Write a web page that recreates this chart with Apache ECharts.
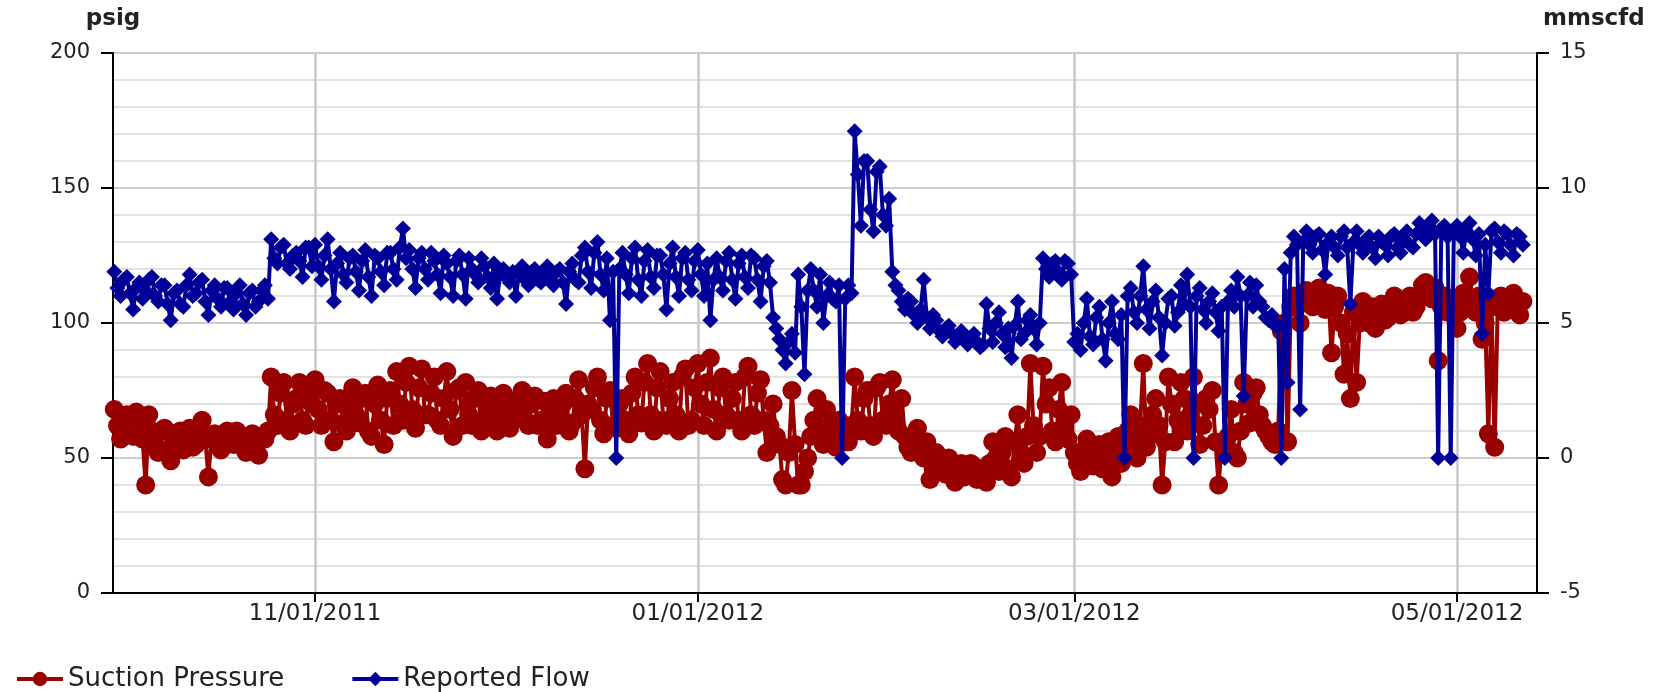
<!DOCTYPE html>
<html>
<head>
<meta charset="utf-8">
<script src="https://cdn.jsdelivr.net/npm/echarts@6/dist/echarts.min.js"></script>
<style>
  html, body { margin: 0; padding: 0; background: #ffffff; }
  #chart { width: 1670px; height: 692px; }
</style>
</head>
<body>
<div id="chart"></div>
<script>
// Two readings per day (00:00 and 12:00), starting 30 Sep 2011
const firstDay = [2011, 8, 30];

// Suction Pressure (psig), 00:00 readings
const pressureOct = [68, 57, 66, 58, 64, 40, 60, 52, 61, 49, 58, 53, 61, 55, 64, 43, 59, 53, 60, 55, 58, 52, 59, 51, 57, 80, 62, 78, 60, 72, 64, 75];
const pressureNov = [79, 62, 74, 56, 72, 60, 76, 63, 74, 58, 77, 55, 75, 82, 64, 84, 61, 83, 66, 80, 62, 82, 58, 76, 78, 62, 75, 64, 73, 60];
const pressureDec = [74, 61, 66, 75, 62, 73, 64, 57, 72, 65, 74, 63, 79, 46, 68, 80, 59, 75, 61, 72, 59, 80, 63, 85, 60, 82, 62, 78, 60, 83, 64];
const pressureJan = [85, 62, 87, 60, 80, 64, 78, 60, 84, 62, 79, 52, 70, 55, 40, 75, 40, 45, 58, 72, 55, 62, 54, 60, 56, 80, 60, 75, 58, 78, 62];
const pressureFeb = [79, 60, 58, 52, 61, 50, 42, 52, 47, 50, 41, 48, 45, 47, 44, 41, 56, 45, 58, 43, 66, 48, 85, 52, 84, 76, 56, 78, 57];
const pressureMar = [52, 45, 57, 47, 55, 50, 43, 58, 52, 66, 50, 85, 58, 72, 40, 80, 56, 78, 60, 80, 55, 72, 75, 40, 52, 68, 50, 78, 63, 76, 62];
const pressureApr = [58, 55, 97, 56, 110, 100, 112, 106, 113, 105, 89, 110, 81, 72, 78, 108, 100, 98, 107, 102, 110, 103, 108, 104, 110, 115, 109, 86, 110, 105];
const pressureMay = [98, 111, 117, 104, 94, 59, 54, 110, 106, 111, 103];

// Suction Pressure (psig), 12:00 readings
const pressureOct2 = [62, 65, 59, 67, 57, 66, 55, 60, 53, 58, 60, 56, 54, 59, 57, 58, 55, 58, 56, 60, 54, 58, 55, 58, 60, 66, 74, 64, 70, 78, 62, 70];
const pressureNov2 = [68, 75, 64, 70, 63, 69, 66, 72, 60, 70, 64, 72, 62, 70, 78, 68, 76, 66, 74, 64, 72, 68, 75, 62, 66, 72, 60, 70, 62, 68];
const pressureDec2 = [66, 70, 72, 64, 70, 62, 71, 66, 62, 70, 60, 72, 66, 70, 76, 64, 72, 62, 70, 64, 74, 66, 78, 66, 76, 64, 72, 66, 80, 62, 76];
const pressureJan2 = [70, 78, 68, 76, 66, 72, 64, 80, 66, 74, 64, 62, 58, 42, 52, 55, 40, 50, 64, 60, 68, 58, 64, 56, 62, 64, 72, 62, 76, 64, 70];
const pressureFeb2 = [66, 72, 54, 58, 54, 56, 46, 49, 44, 48, 45, 43, 48, 42, 46, 48, 50, 52, 46, 56, 52, 58, 62, 58, 70, 60, 68, 62, 66];
const pressureMar2 = [48, 53, 50, 54, 46, 56, 52, 48, 60, 56, 62, 54, 66, 62, 56, 70, 64, 72, 66, 70, 62, 68, 56, 55, 58, 52, 60, 70, 74, 66, 60];
const pressureApr2 = [56, 60, 100, 106, 106, 110, 107, 110, 108, 111, 106, 100, 96, 104, 100, 103, 106, 104, 101, 106, 108, 104, 110, 106, 114, 111, 113, 106, 104, 108];
const pressureMay2 = [104, 106, 109, 110, 100, 106, 108, 104, 109, 107, 108];

// Reported Flow (mmscfd), 00:00 readings
const flowOct = [6.9, 6.0, 6.7, 5.5, 6.5, 6.2, 6.7, 5.8, 6.4, 5.1, 6.2, 5.6, 6.8, 6.1, 6.6, 5.3, 6.4, 5.6, 6.3, 5.5, 6.4, 5.3, 6.2, 5.8, 6.4, 8.1, 7.2, 7.9, 7.0, 7.6, 6.7, 7.8];
const flowNov = [7.9, 6.6, 8.1, 5.8, 7.6, 6.5, 7.5, 6.2, 7.7, 6.0, 7.4, 6.4, 7.6, 6.6, 8.5, 7.7, 6.3, 7.6, 6.6, 7.3, 6.1, 7.2, 6.0, 7.5, 5.9, 7.0, 6.5, 7.1, 6.3, 5.9];
const flowDec = [7.0, 6.5, 6.0, 7.1, 6.4, 7.0, 6.5, 7.1, 6.4, 7.0, 5.7, 7.2, 6.5, 7.8, 6.3, 8.0, 6.2, 5.1, 0, 7.6, 6.1, 7.8, 6.0, 7.7, 6.3, 7.5, 5.5, 7.8, 6.0, 7.6, 6.2];
const flowJan = [7.7, 6.0, 5.1, 7.4, 6.2, 7.6, 5.9, 7.5, 6.3, 7.4, 5.8, 7.3, 5.2, 4.4, 3.5, 4.6, 6.8, 3.1, 7.0, 5.6, 5.0, 6.5, 5.8, 0, 6.4, 12.1, 8.6, 11.0, 8.4, 10.8, 8.6];
const flowFeb = [6.9, 6.2, 5.5, 5.8, 5.0, 6.6, 4.8, 5.1, 4.5, 4.9, 4.3, 4.7, 4.2, 4.6, 4.1, 5.7, 4.3, 5.4, 4.1, 3.7, 5.8, 4.6, 5.3, 4.2, 7.4, 6.7, 7.3, 6.6, 7.2];
const flowMar = [4.3, 4.0, 5.9, 4.2, 5.6, 3.6, 5.8, 4.4, 0, 6.3, 5.0, 7.1, 4.8, 6.2, 3.8, 5.9, 4.9, 6.4, 6.8, 0, 6.3, 5.0, 6.1, 4.7, 0, 6.2, 6.7, 2.3, 6.5, 6.4, 5.6];
const flowApr = [5.1, 4.9, 0, 2.8, 8.2, 1.8, 8.4, 7.6, 8.3, 6.8, 8.2, 7.5, 8.4, 5.7, 8.4, 7.6, 8.2, 7.4, 8.0, 7.5, 8.3, 7.6, 8.4, 7.8, 8.7, 8.1, 8.8, 0, 8.6, 0];
const flowMay = [8.6, 7.6, 8.7, 7.5, 4.6, 6.1, 8.5, 7.6, 8.3, 7.5, 8.2];

// Reported Flow (mmscfd), 12:00 readings
const flowOct2 = [6.3, 6.6, 6.1, 6.3, 5.9, 6.6, 6.0, 6.4, 5.7, 6.1, 5.7, 6.4, 6.0, 6.5, 5.8, 6.2, 5.9, 6.3, 5.8, 6.1, 5.7, 6.1, 5.6, 6.2, 5.9, 7.4, 7.8, 7.2, 7.5, 7.3, 7.8, 7.1];
const flowNov2 = [7.1, 7.5, 7.0, 7.2, 6.8, 7.4, 6.9, 7.3, 6.7, 7.5, 6.9, 7.6, 7.0, 7.8, 7.4, 7.0, 7.4, 7.0, 7.6, 6.8, 7.5, 6.7, 7.3, 6.8, 7.4, 6.8, 7.4, 6.7, 7.2, 6.8];
const flowDec2 = [6.7, 6.9, 6.8, 6.6, 6.9, 6.6, 6.9, 6.6, 6.9, 6.5, 6.9, 6.6, 7.5, 6.9, 7.6, 6.8, 7.4, 6.9, 7.0, 6.8, 7.4, 6.6, 7.3, 6.7, 7.5, 6.8, 7.2, 6.7, 7.4, 6.6, 7.3];
const flowJan2 = [6.8, 7.2, 6.6, 6.7, 7.3, 6.6, 7.2, 6.7, 7.5, 6.6, 7.1, 6.5, 4.8, 4.0, 4.3, 3.9, 5.6, 6.2, 6.2, 6.8, 6.0, 5.9, 6.4, 5.9, 6.1, 10.5, 11.0, 9.2, 10.6, 9.0, 9.6];
const flowFeb2 = [6.4, 5.8, 5.9, 5.3, 5.5, 5.2, 5.3, 4.7, 4.8, 4.6, 4.5, 4.4, 4.4, 4.3, 4.2, 4.8, 5.0, 4.6, 4.8, 4.9, 4.4, 5.1, 4.8, 5.0, 7.0, 7.2, 6.9, 7.3, 6.8];
const flowMar2 = [4.6, 5.0, 4.5, 5.2, 4.4, 5.0, 4.6, 5.3, 6.0, 5.4, 6.0, 5.5, 5.8, 5.2, 5.0, 6.0, 5.4, 5.7, 5.6, 6.0, 5.5, 5.8, 5.4, 5.6, 5.8, 5.6, 6.0, 6.0, 5.6, 5.8, 5.2];
const flowApr2 = [5.3, 4.9, 7.0, 7.6, 7.9, 8.0, 7.9, 8.2, 7.7, 8.0, 7.8, 8.2, 7.8, 8.0, 7.9, 8.1, 7.8, 8.2, 7.9, 8.2, 7.8, 8.1, 7.9, 8.3, 8.3, 8.6, 8.3, 8.5, 8.2, 8.4];
const flowMay2 = [8.2, 8.4, 8.1, 8.3, 7.9, 8.4, 8.0, 8.4, 7.9, 8.3, 7.9];

// Axis ticks
const dateTicks = ['11/01/2011', '01/01/2012', '03/01/2012', '05/01/2012'];
const pressureTicks = [0, 50, 100, 150, 200];
const flowTicks = [-5, 0, 5, 10, 15];

function parseMDY(s) {
  const p = s.split('/');
  return new Date(+p[2], +p[0] - 1, +p[1]).getTime();
}
function pad(n) { return (n < 10 ? '0' : '') + n; }
function fmtDate(v) {
  const d = new Date(v);
  return pad(d.getMonth() + 1) + '/' + pad(d.getDate()) + '/' + d.getFullYear();
}
// Pair each day's 00:00 and 12:00 readings with their timestamps
function toSeries(midnight, noon) {
  const out = [];
  for (let i = 0; i < midnight.length; i++) {
    out.push([new Date(firstDay[0], firstDay[1], firstDay[2] + i, 0).getTime(), midnight[i]]);
    out.push([new Date(firstDay[0], firstDay[1], firstDay[2] + i, 12).getTime(), noon[i]]);
  }
  return out;
}

const pressureA = [].concat(pressureOct, pressureNov, pressureDec, pressureJan, pressureFeb, pressureMar, pressureApr, pressureMay);
const pressureB = [].concat(pressureOct2, pressureNov2, pressureDec2, pressureJan2, pressureFeb2, pressureMar2, pressureApr2, pressureMay2);
const flowA = [].concat(flowOct, flowNov, flowDec, flowJan, flowFeb, flowMar, flowApr, flowMay);
const flowB = [].concat(flowOct2, flowNov2, flowDec2, flowJan2, flowFeb2, flowMar2, flowApr2, flowMay2);
const tickTimes = dateTicks.map(parseMDY);

const FONT = 'DejaVu Sans';
const TXT = '#222222';

const chart = echarts.init(document.getElementById('chart'), null, { renderer: 'canvas' });
chart.setOption({
  animation: false,
  backgroundColor: '#ffffff',
  textStyle: { fontFamily: FONT },
  grid: { left: 113, right: 133, top: 53, bottom: 99, containLabel: false },
  legend: {
    data: ['Suction Pressure', 'Reported Flow'],
    left: 10,
    top: 661,
    itemWidth: 46,
    itemHeight: 18,
    itemGap: 66,
    lineStyle: { width: 4 },
    textStyle: { fontSize: 26, color: TXT, fontFamily: FONT },
    selectedMode: false
  },
  xAxis: {
    type: 'value',
    min: new Date(2011, 8, 29, 19).getTime(),
    max: new Date(2012, 4, 13, 18).getTime(),
    axisLine: { show: true, lineStyle: { color: '#000', width: 2 } },
    axisTick: { show: true, length: 9, customValues: tickTimes, lineStyle: { color: '#000', width: 2 } },
    axisLabel: { customValues: tickTimes, formatter: fmtDate, fontSize: 23, margin: 10, color: TXT, fontFamily: FONT },
    splitLine: { show: false }
  },
  yAxis: [
    {
      type: 'value',
      position: 'left',
      min: pressureTicks[0],
      max: pressureTicks[pressureTicks.length - 1],
      interval: pressureTicks[1] - pressureTicks[0],
      name: 'psig',
      nameLocation: 'end',
      nameGap: 22,
      nameTextStyle: { fontSize: 23, fontWeight: 'bold', color: TXT, fontFamily: FONT },
      axisLine: { show: true, lineStyle: { color: '#000', width: 2 } },
      axisTick: { show: true, length: 12, lineStyle: { color: '#000', width: 2 } },
      axisLabel: { fontSize: 21, margin: 23, color: TXT, fontFamily: FONT },
      splitLine: { show: true, lineStyle: { color: '#cdcdcd', width: 2 } },
      minorTick: { show: false, splitNumber: 5 },
      minorSplitLine: { show: true, lineStyle: { color: '#e2e2e2', width: 2 } }
    },
    {
      type: 'value',
      position: 'right',
      min: flowTicks[0],
      max: flowTicks[flowTicks.length - 1],
      interval: flowTicks[1] - flowTicks[0],
      name: 'mmscfd',
      nameLocation: 'end',
      nameGap: 22,
      nameTextStyle: { fontSize: 23, fontWeight: 'bold', color: TXT, fontFamily: FONT, align: 'left', padding: [0, 0, 0, 6] },
      axisLine: { show: true, lineStyle: { color: '#000', width: 2 } },
      axisTick: { show: true, length: 12, lineStyle: { color: '#000', width: 2 } },
      axisLabel: { fontSize: 21, margin: 23, color: TXT, fontFamily: FONT },
      splitLine: { show: false }
    }
  ],
  series: [
    {
      name: '_grid',
      type: 'line',
      data: [],
      silent: true,
      z: 0,
      markLine: {
        silent: true,
        z: 0,
        symbol: ['none', 'none'],
        label: { show: false },
        lineStyle: { color: '#c8c8c8', width: 2.5, type: 'solid' },
        emphasis: { disabled: true },
        data: tickTimes.map(function (t) { return { xAxis: t }; })
      }
    },
    {
      name: 'Suction Pressure',
      type: 'line',
      yAxisIndex: 0,
      z: 10,
      data: toSeries(pressureA, pressureB),
      symbol: 'circle',
      symbolSize: 19,
      showSymbol: true,
      color: '#990000',
      itemStyle: { color: '#990000' },
      lineStyle: { color: '#990000', width: 4 },
      emphasis: { disabled: true }
    },
    {
      name: 'Reported Flow',
      type: 'line',
      yAxisIndex: 1,
      z: 11,
      data: toSeries(flowA, flowB),
      symbol: 'diamond',
      symbolSize: 16,
      showSymbol: true,
      color: '#000099',
      itemStyle: { color: '#000099' },
      lineStyle: { color: '#000099', width: 4 },
      emphasis: { disabled: true }
    }
  ]
});
</script>
</body>
</html>
